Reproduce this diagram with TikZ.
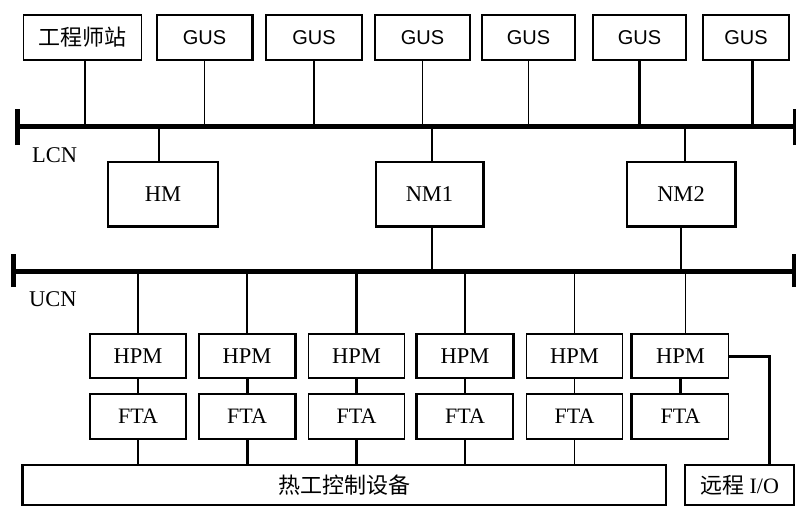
\documentclass[tikz,border=0pt]{standalone}
\usepackage{fontspec}
\setmainfont{Liberation Serif}
\newfontfamily\sansf{Liberation Sans}
\newfontfamily\cjk{Noto Sans CJK SC}
\begin{document}
\begin{tikzpicture}[x=1pt,y=-1pt,
  box/.style={draw,line width=1.4pt,inner sep=0pt,minimum width=#1},
  box/.default=96pt,
  ln/.style={line width=1.4pt},
  thk/.style={line width=3pt},
  bus/.style={line width=5pt},
  edge/.style={line width=3pt},
  gus/.style={box=#1,minimum height=45pt,font=\sansf\fontsize{20}{20}\selectfont},
  mod/.style={box=#1,minimum height=64pt,font=\fontsize{22.5}{22.5}\selectfont},
  io/.style={box=#1,font=\fontsize{22.5}{22.5}\selectfont},
  lbl/.style={anchor=base west,inner sep=0pt,font=\fontsize{22.5}{22.5}\selectfont}]
\useasboundingbox (0,0) rectangle (796,507);
% top row
\node[gus=118pt,font=\cjk\fontsize{22}{22}\selectfont] (eng) at (82.5,37.5) {工程师站};
\node[gus=95pt] (g1) at (204.5,37.5) {GUS};
\node[gus=96pt] (g2) at (314,37.5) {GUS};
\node[gus=95pt] (g3) at (422.5,37.5) {GUS};
\node[gus=93pt] (g4) at (528.5,37.5) {GUS};
\node[gus=93pt] (g5) at (639.5,37.5) {GUS};
\node[gus=86pt] (g6) at (746,37.5) {GUS};
% LCN bus
\coordinate (lcnL) at (17,126);
\coordinate (lcnR) at (795,126);
\draw[bus] (lcnL) -- (lcnR);
\draw[bus] ([yshift=-19pt]lcnL) -- ([yshift=17pt]lcnL);
\draw[bus] ([yshift=-19pt]lcnR) -- ([yshift=17pt]lcnR);
\node[lbl] (lcn) at (32,162) {LCN};
\draw[ln] ([xshift=2.5pt]eng.south) -- ([xshift=2.5pt]eng.south |- lcnL);
\foreach \n in {g1,g2,g3,g4}{\draw[ln] (\n.south) -- (\n.south |- lcnL);}
\draw[thk] (g5.south) -- (g5.south |- lcnL);
\draw[thk] ([xshift=6pt]g6.south) -- ([xshift=6pt]g6.south |- lcnL);
% modules
\node[mod=110pt] (hm) at (163,194) {HM};
\node[mod=107pt] (nm1) at (429.5,194) {NM1};
\node[mod=108pt] (nm2) at (681,194) {NM2};
\draw[ln] ([xshift=-4pt]hm.north) -- ([xshift=-4pt]hm.north |- lcnL);
\draw[ln] ([xshift=2.5pt]nm1.north) -- ([xshift=2.5pt]nm1.north |- lcnL);
\draw[ln] ([xshift=4pt]nm2.north) -- ([xshift=4pt]nm2.north |- lcnL);
% UCN bus
\coordinate (ucnL) at (13,271);
\coordinate (ucnR) at (794,271);
\draw[bus] (ucnL) -- (ucnR);
\draw[bus] ([yshift=-16pt]ucnL) -- ([yshift=17pt]ucnL);
\draw[bus] ([yshift=-16pt]ucnR) -- ([yshift=17pt]ucnR);
\node[lbl] (ucn) at (29,306) {UCN};
\draw[ln] ([xshift=2.5pt]nm1.south) -- ([xshift=2.5pt]nm1.south |- ucnL);
\draw[ln] (nm2.south) -- (nm2.south |- ucnL);
% HPM / FTA columns
\foreach \i/\x in {1/138,2/247,3/356.5,4/465,5/574.5,6/680.5}{
  \node[io=96pt,minimum height=44pt] (h\i) at (\x,356) {HPM};
  \node[io=96pt,minimum height=45pt,font=\fontsize{22}{22}\selectfont] (f\i) at (\x,416.5) {FTA};
}
\node[box=643pt,minimum height=40pt,font=\cjk\fontsize{22}{22}\selectfont] (equip) at (344.5,485) {热工控制设备};
\node[box=109pt,minimum height=40pt,font=\fontsize{22}{22}\selectfont] (rio) at (739.5,485) {{\cjk 远程} I/O};
% drops from UCN
\foreach \i in {1,2,4,5}{\draw[ln] (h\i.north) -- (h\i.north |- ucnL);}
\draw[ln] ([xshift=5pt]h6.north) -- ([xshift=5pt]h6.north |- ucnL);
\draw[thk] (h3.north) -- (h3.north |- ucnL);
% HPM to FTA and FTA to equipment
\foreach \i in {1,4,5}{\draw[ln] (h\i) -- (f\i); \draw[ln] (f\i.south) -- (f\i.south |- equip.north);}
\foreach \i in {2,3}{\draw[thk] (h\i) -- (f\i); \draw[thk] (f\i.south) -- (f\i.south |- equip.north);}
\draw[thk] (h6) -- (f6);
\coordinate (rtop) at (769,465);
\draw[thk] (h6.east) -| (rtop);
% heavy box edges
\draw[edge] (g1.north east) -- (g1.south east);
\draw[edge] (hm.south west) -- (hm.south east);
\draw[edge] (nm1.north east) -- (nm1.south east) -- (nm1.south west);
\draw[edge] (nm2.north east) -- (nm2.south east) -- (nm2.south west);
\draw[edge] (h2.north east) -- (h2.south east);
\draw[edge] (f2.north east) -- (f2.south east);
\draw[edge] (h4.north west) -- (h4.south west);
\draw[edge] (h4.north east) -- (h4.south east);
\draw[edge] (f4.north west) -- (f4.south west);
\draw[edge] (h6.north west) -- (h6.south west);
\draw[edge] (f6.north west) -- (f6.south west);
\draw[edge] (equip.north west) -- (equip.south west);
\end{tikzpicture}
\end{document}
